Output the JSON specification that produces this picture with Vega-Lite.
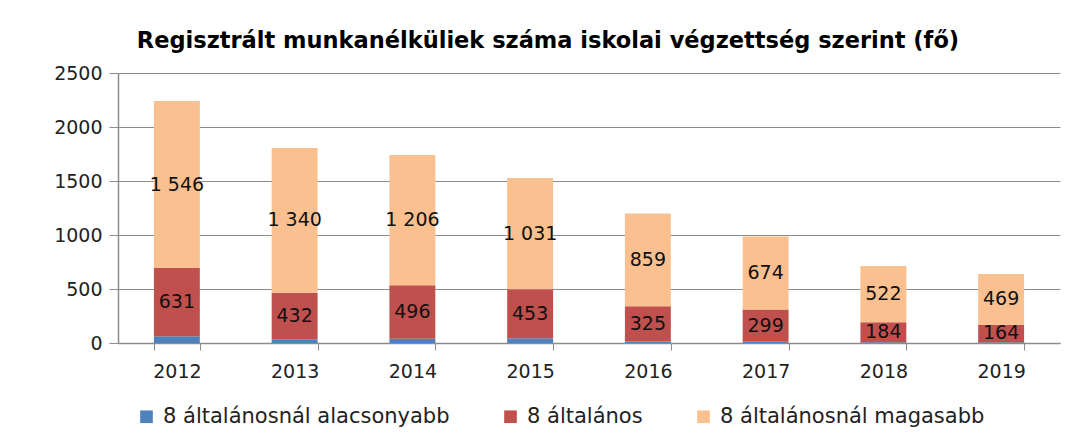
{
  "$schema": "https://vega.github.io/schema/vega-lite/v6.json",
  "autosize": {"type": "none"},
  "width": 942,
  "height": 270,
  "padding": {"left": 118, "top": 73, "right": 16, "bottom": 95},
  "background": "white",
  "config": {
    "locale": {"number": {"decimal": ",", "thousands": " ", "grouping": [3], "currency": ["", ""]}},
    "view": {"stroke": null},
    "font": "DejaVu Sans"
  },
  "title": {
    "text": "Regisztrált munkanélküliek száma iskolai végzettség szerint (fő)",
    "font": "DejaVu Sans",
    "fontSize": 22.5,
    "fontWeight": "bold",
    "color": "#000000",
    "anchor": "middle",
    "frame": "group",
    "dx": -41,
    "offset": 12
  },
  "data": {
    "values": [
      {"year": "2012", "cat": "8 általánosnál alacsonyabb", "ord": 0, "value": 63},
      {"year": "2012", "cat": "8 általános", "ord": 1, "value": 631},
      {"year": "2012", "cat": "8 általánosnál magasabb", "ord": 2, "value": 1546},
      {"year": "2013", "cat": "8 általánosnál alacsonyabb", "ord": 0, "value": 34},
      {"year": "2013", "cat": "8 általános", "ord": 1, "value": 432},
      {"year": "2013", "cat": "8 általánosnál magasabb", "ord": 2, "value": 1340},
      {"year": "2014", "cat": "8 általánosnál alacsonyabb", "ord": 0, "value": 39},
      {"year": "2014", "cat": "8 általános", "ord": 1, "value": 496},
      {"year": "2014", "cat": "8 általánosnál magasabb", "ord": 2, "value": 1206},
      {"year": "2015", "cat": "8 általánosnál alacsonyabb", "ord": 0, "value": 44},
      {"year": "2015", "cat": "8 általános", "ord": 1, "value": 453},
      {"year": "2015", "cat": "8 általánosnál magasabb", "ord": 2, "value": 1031},
      {"year": "2016", "cat": "8 általánosnál alacsonyabb", "ord": 0, "value": 15},
      {"year": "2016", "cat": "8 általános", "ord": 1, "value": 325},
      {"year": "2016", "cat": "8 általánosnál magasabb", "ord": 2, "value": 859},
      {"year": "2017", "cat": "8 általánosnál alacsonyabb", "ord": 0, "value": 12},
      {"year": "2017", "cat": "8 általános", "ord": 1, "value": 299},
      {"year": "2017", "cat": "8 általánosnál magasabb", "ord": 2, "value": 674},
      {"year": "2018", "cat": "8 általánosnál alacsonyabb", "ord": 0, "value": 8},
      {"year": "2018", "cat": "8 általános", "ord": 1, "value": 184},
      {"year": "2018", "cat": "8 általánosnál magasabb", "ord": 2, "value": 522},
      {"year": "2019", "cat": "8 általánosnál alacsonyabb", "ord": 0, "value": 6},
      {"year": "2019", "cat": "8 általános", "ord": 1, "value": 164},
      {"year": "2019", "cat": "8 általánosnál magasabb", "ord": 2, "value": 469}
    ]
  },
  "transform": [
    {"stack": "value", "groupby": ["year"], "sort": [{"field": "ord", "order": "ascending"}], "as": ["v0", "v1"]},
    {"calculate": "(datum.v0 + datum.v1) / 2", "as": "mid"}
  ],
  "layer": [
    {
      "mark": {"type": "bar"},
      "encoding": {
        "x": {
          "field": "year",
          "type": "ordinal",
          "scale": {"paddingInner": 0.61, "paddingOuter": 0.305},
          "axis": {
            "title": null,
            "labelAngle": 0,
            "labelFont": "DejaVu Sans",
            "labelFontSize": 19,
            "labelColor": "#222222",
            "labelPadding": 12,
            "tickBand": "extent",
            "tickSize": 7,
            "tickColor": "#8c8c8c",
            "domainColor": "#8c8c8c",
            "domainWidth": 1.5,
            "grid": false
          }
        },
        "y": {
          "field": "v0",
          "type": "quantitative",
          "scale": {"domain": [0, 2500], "nice": false},
          "axis": {
            "title": null,
            "values": [0, 500, 1000, 1500, 2000, 2500],
            "format": "d",
            "grid": true,
            "gridColor": "#8c8c8c",
            "gridWidth": 1,
            "domainColor": "#8c8c8c",
            "domainWidth": 1.5,
            "tickColor": "#8c8c8c",
            "tickSize": 9,
            "labelPadding": 7,
            "labelFont": "DejaVu Sans",
            "labelFontSize": 19,
            "labelColor": "#222222"
          }
        },
        "y2": {"field": "v1"},
        "color": {
          "field": "cat",
          "type": "nominal",
          "scale": {
            "domain": ["8 általánosnál alacsonyabb", "8 általános", "8 általánosnál magasabb"],
            "range": ["#4F81BD", "#C0504D", "#FAC08F"]
          },
          "legend": {
            "title": null,
            "orient": "none",
            "direction": "horizontal",
            "legendX": 18,
            "legendY": 333,
            "padding": 0,
            "symbolType": "square",
            "symbolSize": 160,
            "symbolStrokeWidth": 0,
            "labelFont": "DejaVu Sans",
            "labelFontSize": 21,
            "labelLimit": 0,
            "labelColor": "#222222",
            "labelOffset": 6,
            "columnPadding": 50
          }
        }
      }
    },
    {
      "transform": [{"filter": "datum.ord > 0"}],
      "mark": {"type": "text", "font": "DejaVu Sans", "fontSize": 19, "color": "#111111", "baseline": "middle", "align": "center"},
      "encoding": {
        "x": {"field": "year", "type": "ordinal"},
        "y": {"field": "mid", "type": "quantitative"},
        "text": {"field": "value", "type": "quantitative", "format": ",d"}
      }
    }
  ]
}
